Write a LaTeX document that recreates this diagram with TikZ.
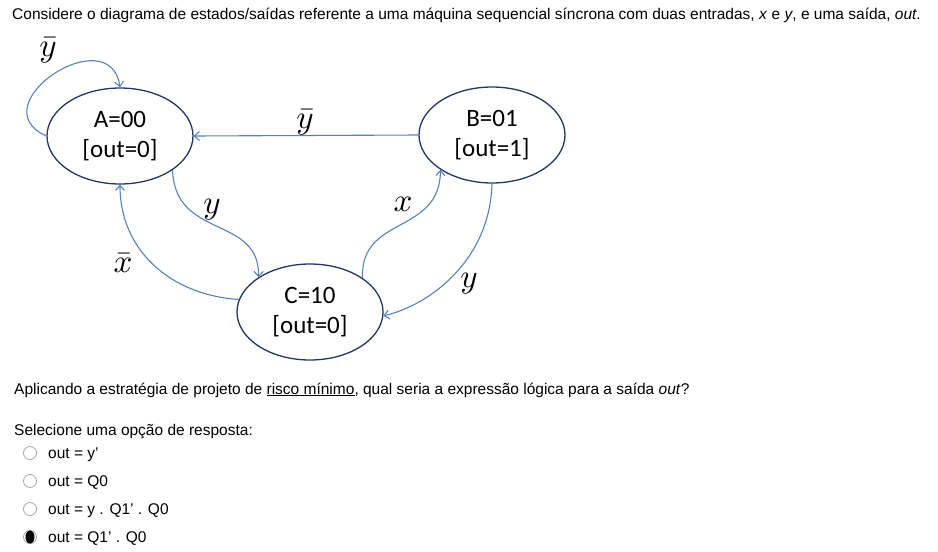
\documentclass[tikz,border=0pt]{standalone}
\usepackage{fontspec}
\setmainfont{Liberation Sans}
\newfontfamily\statefont{Carlito}
\usetikzlibrary{shapes.geometric,arrows.meta}
\definecolor{arrowblue}{RGB}{84,130,190}
\definecolor{statenavy}{RGB}{32,56,100}
\definecolor{radiogray}{RGB}{165,165,165}
\newcommand{\biglbl}[1]{\scalebox{3.3}{$#1$}}

\begin{document}
\begin{tikzpicture}[x=1pt,y=-1pt,
    state/.style={ellipse,draw=statenavy,line width=1.3pt,fill=white,
        minimum width=146pt,minimum height=96pt,inner sep=0pt,
        align=center,font=\statefont\fontsize{25}{30}\selectfont},
    trans/.style={draw=arrowblue,line width=1.1pt,-{Straight Barb[length=5pt,width=9pt]}},
    lbl/.style={inner sep=0pt},
    txt/.style={anchor=base west,inner sep=0pt,font=\fontsize{15.5}{17}\selectfont}
    ]
\useasboundingbox (0,0) rectangle (938,552);
% question
\node[txt] (q1) at (12,19) {Considere o diagrama de estados/saídas referente a uma máquina sequencial síncrona com duas entradas, \textit{x} e \textit{y}, e uma saída, \textit{out}.};
% states
\node[state] (A) at (120,136) {A=00\\{}[out=0]};
\node[state] (B) at (492,135) {B=01\\{}[out=1]};
\node[state] (C) at (310,312) {C=10\\{}[out=0]};
% transitions
\draw[trans] (A.180) .. controls (-22,105) and (110,18) .. (A.90);
\draw[trans] (B.west) -- (A.east);
\draw[trans] (A.-33) .. controls (175,240) and (260,215) .. (C.146);
\draw[trans] (C.170) .. controls (170,295) and (120,250) .. (A.-90);
\draw[trans] (C.33) .. controls (360,215) and (440,235) .. (B.214);
\draw[trans] (B.-90) .. controls (490,260) and (430,305) .. (C.-3);
\node[lbl] (lAA) at (48,50) {\biglbl{\bar{y}}};
\node[lbl] (lBA) at (305,122) {\biglbl{\bar{y}}};
\node[lbl] (lAC) at (212,210) {\biglbl{y}};
\node[lbl] (lCA) at (123,263) {\biglbl{\bar{x}}};
\node[lbl] (lCB) at (403,204) {\biglbl{x}};
\node[lbl] (lBC) at (469,284) {\biglbl{y}};
% answers
\node[txt] (q2) at (14,394) {Aplicando a estratégia de projeto de \underline{risco mínimo}, qual seria a expressão lógica para a saída \textit{out}?};
\node[txt] (q3) at (14,435) {Selecione uma opção de resposta:};
\foreach \opt [count=\i] in {out = y',out = Q0,out = y . Q1' . Q0,out = Q1' . Q0}{
    \node[circle,draw=radiogray,line width=0.8pt,minimum size=13pt,inner sep=0pt] (r\i) at (30,425+28*\i) {};
    \node[txt] (o\i) at (48,430+28*\i) {\opt};
}
\fill[black] (r4) ellipse (4.5pt and 6.5pt);
\end{tikzpicture}
\end{document}
